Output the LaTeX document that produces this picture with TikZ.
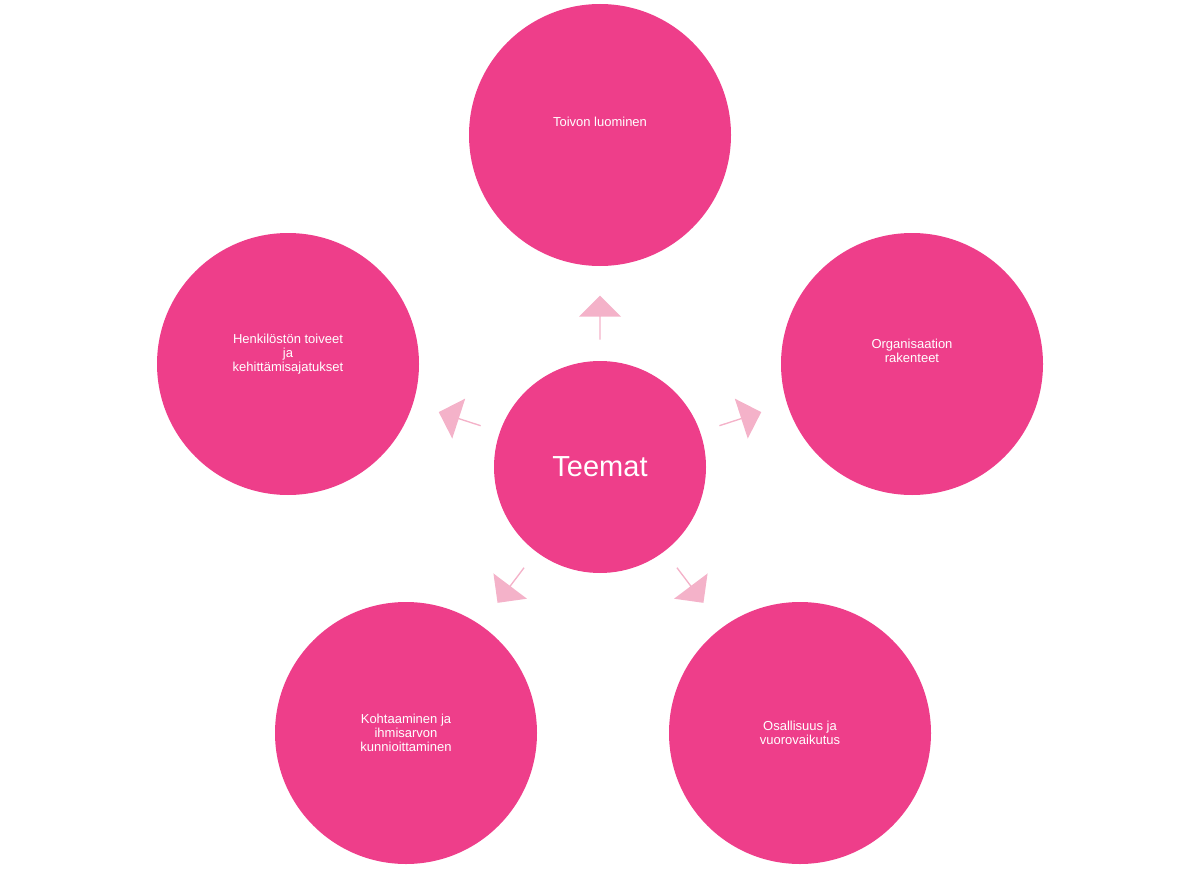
\documentclass[tikz,border=0pt]{standalone}
\usepackage{fontspec}
\setmainfont{Liberation Sans}
\usetikzlibrary{shapes.arrows}
\definecolor{mag}{HTML}{EE3E8A}
\definecolor{pale}{HTML}{F4B2C9}
\begin{document}
\begin{tikzpicture}[x=1pt,y=-1pt,
  outer/.style={circle,fill=mag,text=white,minimum size=262pt,inner sep=0pt,align=center,font=\fontsize{13}{14}\selectfont},
  arr/.style={single arrow,fill=pale,minimum height=44pt,minimum width=42pt,single arrow head extend=6pt,inner sep=0pt}]
\useasboundingbox (0,0) rectangle (1200,872);
\node[circle,fill=mag,text=white,minimum size=212pt,inner sep=0pt,font=\fontsize{29}{32}\selectfont] (c) at (600,467) {Teemat};
\node[outer] (t) at (600,135) {Toivon luominen\\[12pt]};
\node[outer] (r) at (912,364) {Organisaation\\rakenteet\\[12pt]};
\node[outer] (br) at (800,733) {Osallisuus ja\\vuorovaikutus};
\node[outer] (bl) at (406,733) {Kohtaaminen ja\\ihmisarvon\\kunnioittaminen};
\node[outer] (l) at (288,364) {Henkilöstön toiveet\\ja\\kehittämisajatukset\\[8pt]};
\node[arr,rotate=90] (a1) at (600,318) {};
\node[arr,rotate=18] (a2) at (740,419) {};
\node[arr,rotate=-53] (a3) at (690,585) {};
\node[arr,rotate=-127] (a4) at (511,585) {};
\node[arr,rotate=162] (a5) at (460,419) {};
\end{tikzpicture}
\end{document}
